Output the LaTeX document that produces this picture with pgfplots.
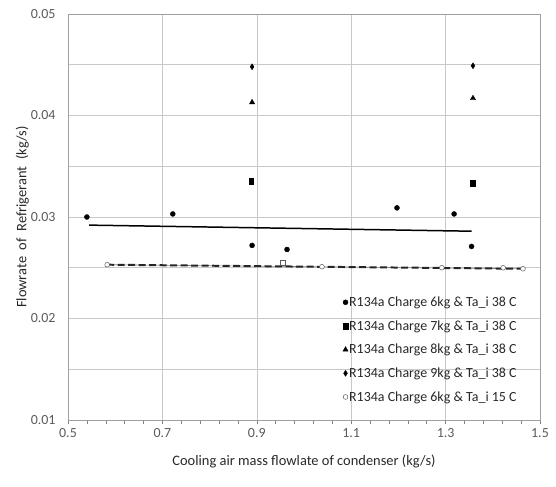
\documentclass[border=0pt]{standalone}
\usepackage{fontspec}
\setmainfont{Carlito}
\usepackage{pgfplots}
\pgfplotsset{compat=1.18}

\definecolor{gridgray}{RGB}{200,200,200}
\definecolor{ticktext}{RGB}{90,90,90}
\definecolor{labeltext}{RGB}{40,40,40}

\begin{document}
\begin{tikzpicture}
\begin{axis}[
    at={(0,0)}, anchor=south west,
    scale only axis,
    width=472bp, height=406bp,
    xmin=0.5, xmax=1.5,
    ymin=0.01, ymax=0.05,
    xtick={0.5,0.7,0.9,1.1,1.3,1.5},
    minor x tick num=4,
    ytick={0.01,0.02,0.03,0.04,0.05},
    minor ytick={0.015,0.025,0.035,0.045},
    xtick pos=bottom, ytick pos=left,
    scaled ticks=false,
    xticklabel style={/pgf/number format/fixed, /pgf/number format/precision=1,
        /pgf/number format/fixed zerofill},
    yticklabel style={/pgf/number format/fixed, /pgf/number format/precision=2,
        /pgf/number format/fixed zerofill},
    /pgf/number format/assume math mode=true,
    tick label style={font=\fontsize{14}{16}\selectfont, text=ticktext},
    xticklabel style={yshift=-1bp},
    yticklabel style={xshift=-5bp},
    xmajorgrids, ymajorgrids, yminorgrids,
    grid style={draw=gridgray, line width=0.6pt},
    minor grid style={draw=gridgray, line width=0.6pt},
    axis line style={draw=gridgray!80!black, line width=0.6pt},
    tick align=outside,
    major tick length=4bp,
    minor tick length=4bp,
    x tick style={draw=gray, line width=0.5pt},
    y tick style={draw=none},
    xlabel={Cooling air mass flowlate of condenser (kg/s)},
    ylabel={Flowrate\ \ of\ \ Refrigerant\ \ (kg/s)},
    label style={font=\fontsize{14.5}{16}\selectfont, text=labeltext},
    xlabel style={yshift=-10bp},
    ylabel style={yshift=-5bp},
    legend style={draw=none, fill=none, at={(0.953,0.040)}, anchor=south east,
        font=\fontsize{14}{16}\selectfont, text=labeltext,
        row sep=10.5bp, inner sep=0pt, nodes={inner sep=1pt}},
    legend cell align=left,
    legend image code/.code={\draw[#1] (0bp,0bp) -- plot coordinates {(0bp,0bp)};},
]
% trendlines
\addplot[forget plot, black, line width=1.5pt] coordinates {(0.545,0.0292) (1.355,0.0286)};
\addplot[forget plot, gray, line width=0.6pt] coordinates {(0.583,0.0253) (1.464,0.0249)};
\addplot[forget plot, black!85, line width=2pt, dash pattern=on 7bp off 3.5bp] coordinates {(0.583,0.0253) (1.464,0.0249)};
% extra open square near the dashed line
\addplot[forget plot, only marks, mark=square, mark size=2.5bp, mark options={draw=gray!70!black, fill=white, line width=0.5pt}]
    coordinates {(0.955,0.0255)};

\addplot[only marks, mark=*, mark size=2.5bp, black] coordinates {
    (0.540,0.0300) (0.722,0.0303) (0.890,0.0272) (0.964,0.0268)
    (1.197,0.0309) (1.318,0.0303) (1.355,0.0271)
};
\addlegendentry{R134a Charge 6kg \& Ta\_i 38 C}
\addplot[only marks, mark=square*, mark size=3bp, black, mark options={xscale=0.8}] coordinates {
    (0.888,0.0335) (1.358,0.0333)
};
\addlegendentry{R134a Charge 7kg \& Ta\_i 38 C}
\addplot[only marks, mark=triangle*, mark size=3bp, black] coordinates {
    (0.890,0.0413) (1.358,0.0417)
};
\addlegendentry{R134a Charge 8kg \& Ta\_i 38 C}
\addplot[only marks, mark=diamond*, mark size=3bp, black, mark options={xscale=0.85}] coordinates {
    (0.890,0.0448) (1.358,0.0449)
};
\addlegendentry{R134a Charge 9kg \& Ta\_i 38 C}
\addplot[only marks, mark=*, mark size=2.4bp, mark options={draw=gray!70!black, fill=white, line width=0.5pt}] coordinates {
    (0.583,0.0253) (1.038,0.0251) (1.292,0.0250) (1.422,0.0250) (1.464,0.0249)
};
\addlegendentry{R134a Charge 6kg \& Ta\_i 15 C}
\end{axis}
\pgfresetboundingbox
\useasboundingbox (-68bp,-67bp) rectangle (488bp,420bp);
\end{tikzpicture}
\end{document}
